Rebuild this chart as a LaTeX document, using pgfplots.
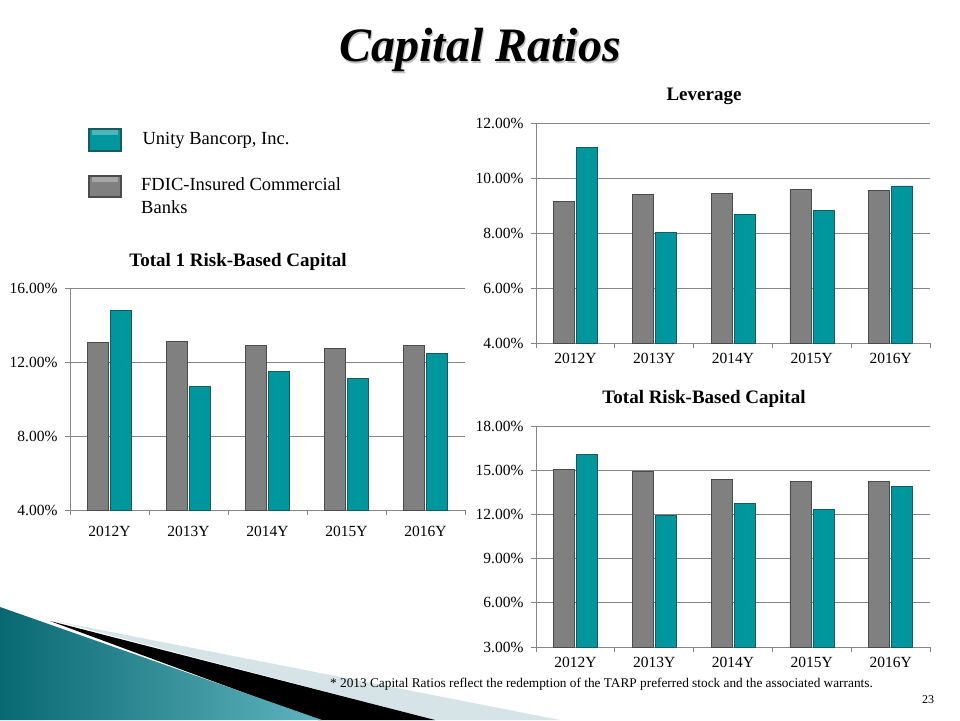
\documentclass[border=0pt]{standalone}
\usepackage{fontspec}
\setmainfont{Liberation Serif}
\usepackage{pgfplots}
\pgfplotsset{compat=1.18}
\definecolor{tealc}{RGB}{0,150,158}
\definecolor{tealdark}{RGB}{25,90,95}
\definecolor{grayc}{RGB}{128,128,128}
\definecolor{graydark}{RGB}{75,75,75}
\definecolor{gridc}{RGB}{134,134,134}
\definecolor{decodark}{RGB}{8,105,115}
\definecolor{decolight}{RGB}{95,180,190}
\definecolor{decopale}{RGB}{214,228,232}

\pgfplotsset{
 capbar/.style={
  scale only axis, anchor=south west,
  ybar=2pt, bar width=21pt,
  xmin=-0.5, xmax=4.5,
  xtick={0,1,2,3,4}, xticklabels={2012Y,2013Y,2014Y,2015Y,2016Y},
  major x tick style={draw=none},
  minor xtick={-0.5,0.5,1.5,2.5,3.5,4.5},
  minor tick length=5pt, major tick length=5pt,
  tick align=outside,
  axis x line*=bottom, axis y line*=left,
  axis line style={-, draw=gridc, line width=0.8pt},
  ymajorgrids, grid style={draw=gridc, line width=0.8pt},
  tick style={draw=gridc, line width=0.8pt},
  tick label style={font=\fontsize{15.5}{17}\selectfont, text=black},
  yticklabel style={xshift=-4pt},
  xticklabel style={yshift=-2pt},
  /pgf/number format/assume math mode=true,
  yticklabel={\pgfmathprintnumber[fixed,fixed zerofill,precision=2]{\tick}\%},
  enlarge y limits=false, clip=false,
 },
 capgray/.style={fill=grayc, draw=graydark, line width=0.6pt},
 capteal/.style={fill=tealc, draw=tealdark, line width=0.6pt},
}

\begin{document}
\begin{tikzpicture}[x=1pt,y=1pt]
\useasboundingbox (0,0) rectangle (960,720);
\fill[white] (0,0) rectangle (960,720);

% decoration bottom-left
\fill[decopale] (60,98) -- (560,0) -- (435,0) -- cycle;
\fill[black] (50,99) -- (435,0) -- (318,0) -- cycle;
\shade[left color=decodark, right color=decolight] (0,113) -- (322,0) -- (0,0) -- cycle;

% title with shadow
\node[text=black!25] at (481.5,668.5) {\fontsize{48}{56}\selectfont\bfseries\itshape Capital Ratios};
\node at (480,670) {\fontsize{48}{56}\selectfont\bfseries\itshape Capital Ratios};

% legend
\fill[tealdark] (88,568) rectangle (122,592);
\fill[tealc] (90,570) rectangle (120,590);
\fill[tealc!70!white] (92,585) rectangle (118,590);
\fill[graydark] (88,522) rectangle (122,545);
\fill[grayc] (90,524) rectangle (120,543);
\fill[grayc!70!white] (92,538) rectangle (118,543);
\node[anchor=west, font=\fontsize{18.5}{22}\selectfont] at (139,580) {Unity Bancorp, Inc.};
\node[anchor=north west, align=left, inner sep=0pt, font=\fontsize{18.5}{23}\selectfont] at (141,543) {FDIC-Insured Commercial\\Banks};

% chart titles
\node[font=\fontsize{19}{22}\selectfont\bfseries] at (238,458) {Total 1 Risk-Based Capital};
\node[font=\fontsize{19}{22}\selectfont\bfseries] at (704,624) {Leverage};
\node[font=\fontsize{19}{22}\selectfont\bfseries] at (704,321) {Total Risk-Based Capital};

% Total 1 Risk-Based Capital
\begin{axis}[capbar, at={(70pt,210pt)}, width=395pt, height=222pt,
  ymin=4, ymax=16, ytick={4,8,12,16}, xticklabel style={yshift=-6pt}]
\addplot[capgray] coordinates {(0,13.04) (1,13.10) (2,12.88) (3,12.72) (4,12.88)};
\addplot[capteal] coordinates {(0,14.77) (1,10.67) (2,11.49) (3,11.12) (4,12.47)};
\end{axis}

% Leverage
\begin{axis}[capbar, at={(536pt,377pt)}, width=394pt, height=220pt,
  ymin=4, ymax=12, ytick={4,6,8,10,12}]
\addplot[capgray] coordinates {(0,9.14) (1,9.40) (2,9.45) (3,9.58) (4,9.54)};
\addplot[capteal] coordinates {(0,11.11) (1,8.03) (2,8.69) (3,8.81) (4,9.71)};
\end{axis}

% Total Risk-Based Capital
\begin{axis}[capbar, at={(536pt,73pt)}, width=394pt, height=221pt,
  ymin=3, ymax=18, ytick={3,6,9,12,15,18}]
\addplot[capgray] coordinates {(0,15.08) (1,14.90) (2,14.40) (3,14.22) (4,14.26)};
\addplot[capteal] coordinates {(0,16.05) (1,11.95) (2,12.75) (3,12.34) (4,13.92)};
\end{axis}

% footnote and page number
\node[anchor=west, inner sep=0pt, font=\fontsize{13.3}{15}\selectfont] at (330,36) {* 2013 Capital Ratios reflect the redemption of the TARP preferred stock and the associated warrants.};
\node[font=\fontsize{12}{14}\selectfont] at (928,20) {23};
\end{tikzpicture}
\end{document}
